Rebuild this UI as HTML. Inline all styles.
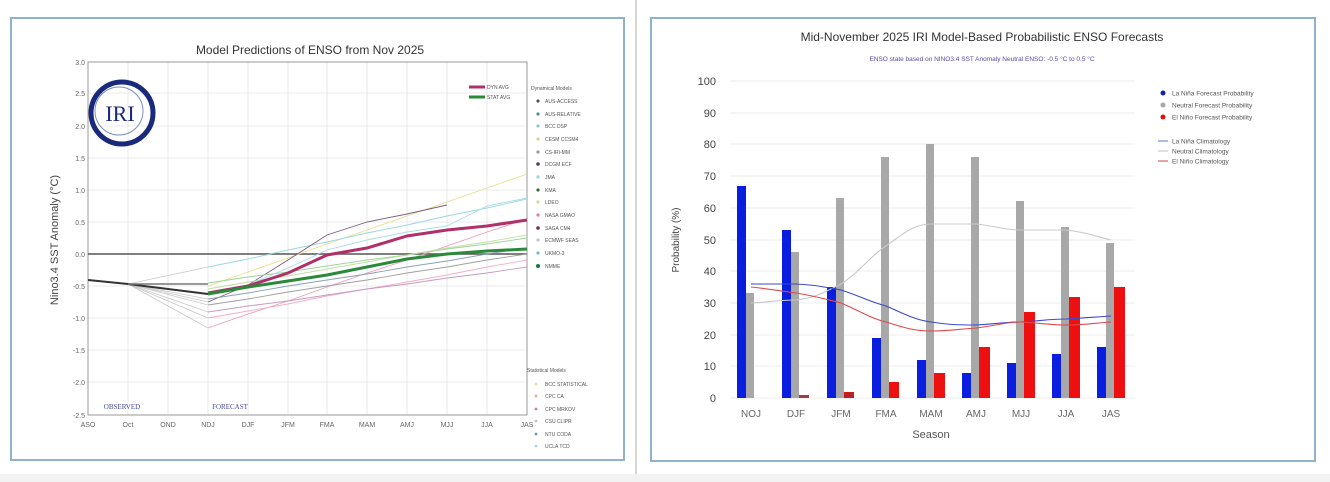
<!DOCTYPE html>
<html><head><meta charset="utf-8"><style>
html,body{margin:0;padding:0;background:#fff;}
svg{display:block;font-family:"Liberation Sans",sans-serif;}
</style></head><body>
<svg width="1330" height="482" viewBox="0 0 1330 482" xmlns="http://www.w3.org/2000/svg">
<rect width="1330" height="482" fill="#fff"/>
<line x1="636" y1="0" x2="636" y2="482" stroke="#c8c8c8" stroke-width="1.5"/>
<rect x="0" y="474" width="1330" height="8" fill="#f2f2f2"/>
<rect x="11" y="18" width="613" height="442" fill="none" stroke="#8fb3cc" stroke-width="2"/>
<rect x="651" y="18" width="664" height="443" fill="none" stroke="#8fb3cc" stroke-width="2"/>

<!-- LEFT CHART -->
<text x="310" y="54" font-size="12" text-anchor="middle" fill="#333">Model Predictions of ENSO from Nov 2025</text>
<g stroke="#e4e4e4" stroke-width="0.8">
<line x1="88" y1="62" x2="527" y2="62"/><line x1="88" y1="93" x2="527" y2="93"/><line x1="88" y1="126" x2="527" y2="126"/><line x1="88" y1="158" x2="527" y2="158"/><line x1="88" y1="190" x2="527" y2="190"/><line x1="88" y1="222" x2="527" y2="222"/><line x1="88" y1="286" x2="527" y2="286"/><line x1="88" y1="318" x2="527" y2="318"/><line x1="88" y1="350" x2="527" y2="350"/><line x1="88" y1="382" x2="527" y2="382"/>
<line x1="128" y1="62" x2="128" y2="415"/><line x1="168" y1="62" x2="168" y2="415"/><line x1="208" y1="62" x2="208" y2="415"/><line x1="248" y1="62" x2="248" y2="415"/><line x1="288" y1="62" x2="288" y2="415"/><line x1="327" y1="62" x2="327" y2="415"/><line x1="367" y1="62" x2="367" y2="415"/><line x1="407" y1="62" x2="407" y2="415"/><line x1="447" y1="62" x2="447" y2="415"/><line x1="487" y1="62" x2="487" y2="415"/>
</g>
<rect x="88" y="62" width="439" height="353" fill="none" stroke="#999" stroke-width="1"/>
<g font-size="7" fill="#666" text-anchor="end">
<text x="85" y="65">3.0</text><text x="85" y="96">2.5</text><text x="85" y="129">2.0</text><text x="85" y="161">1.5</text><text x="85" y="193">1.0</text><text x="85" y="225">0.5</text><text x="85" y="257">0.0</text><text x="85" y="289">-0.5</text><text x="85" y="321">-1.0</text><text x="85" y="353">-1.5</text><text x="85" y="385">-2.0</text><text x="85" y="418">-2.5</text>
</g>
<g font-size="7" fill="#666" text-anchor="middle">
<text x="88" y="427">ASO</text><text x="128" y="427">Oct</text><text x="168" y="427">OND</text><text x="208" y="427">NDJ</text><text x="248" y="427">DJF</text><text x="288" y="427">JFM</text><text x="327" y="427">FMA</text><text x="367" y="427">MAM</text><text x="407" y="427">AMJ</text><text x="447" y="427">MJJ</text><text x="487" y="427">JJA</text><text x="527" y="427">JAS</text>
</g>
<text x="0" y="0" font-size="11" fill="#444" text-anchor="middle" transform="translate(58,240) rotate(-90)">Nino3.4 SST Anomaly (°C)</text>
<text x="122" y="409" font-size="7" fill="#4a4a9a" text-anchor="middle" font-family="Liberation Serif,serif">OBSERVED</text>
<text x="230" y="409" font-size="7" fill="#4a4a9a" text-anchor="middle" font-family="Liberation Serif,serif">FORECAST</text>
<!-- logo -->
<circle cx="122" cy="113" r="31" fill="none" stroke="#1a2a7a" stroke-width="5"/>
<circle cx="119" cy="111" r="24" fill="none" stroke="#7d8fbf" stroke-width="1"/>
<text x="120" y="121" font-size="22" fill="#1a2a7a" text-anchor="middle" font-family="Liberation Serif,serif">IRI</text>
<!-- zero line -->
<line x1="88" y1="254" x2="527" y2="254" stroke="#555" stroke-width="1.5"/>
<!-- fan from Oct -->
<g stroke="#c8c8c8" stroke-width="0.8" fill="none">
<polyline points="128,284 208,267"/><polyline points="128,284 208,302"/><polyline points="128,284 208,328"/><polyline points="128,284 208,318"/><polyline points="128,284 208,312"/><polyline points="128,284 208,305"/><polyline points="128,284 208,299"/>
</g>
<!-- model lines -->
<g fill="none" stroke-width="0.9">
<polyline stroke="#e8e08a" points="208,286 248,272 288,258 327,244 367,230 407,216 447,202 487,188 527,174"/>
<polyline stroke="#9ad8e0" points="208,267 248,259 288,250 327,242 367,233 407,225 447,216 487,208 527,199"/>
<polyline stroke="#7a5a7a" points="208,302 248,285 288,260 327,235 367,222 407,214 447,205"/>
<polyline stroke="#f09ab8" points="208,328 248,314 288,301 327,287 367,273 407,260 447,246 487,232 527,219"/>
<polyline stroke="#9ed49e" points="208,283 248,277 288,272 327,266 367,260 407,255 447,249 487,244 527,238"/>
<polyline stroke="#a0a0a0" points="208,305 248,299 288,292 327,286 367,280 407,273 447,267 487,260 527,254"/>
<polyline stroke="#f0b0c8" points="208,318 248,311 288,304 327,296 367,289 407,282 447,275 487,267 527,260"/>
<polyline stroke="#c89ac0" points="208,312 248,306 288,301 327,295 367,289 407,284 447,278 487,273 527,267"/>
<polyline stroke="#8aa0b8" points="208,299 248,293 288,286 327,280 367,274 407,267 447,261 487,254 527,248"/>
<polyline stroke="#c0e0a0" points="208,289 248,282 288,276 327,269 367,262 407,255 447,248 487,242 527,235"/>
<polyline stroke="#a8d8e8" points="208,295 248,285 288,268 327,250 367,240 407,232 447,226 487,206 527,198"/>
</g>
<!-- averages -->
<polyline fill="none" stroke="#333" stroke-width="2" points="88,280 128,284 208,294"/>
<polyline fill="none" stroke="#777" stroke-width="1.5" points="128,284 208,284"/>
<polyline fill="none" stroke="#b0306a" stroke-width="3" points="208,293 248,286 288,273 327,255 367,248 407,236 447,230 487,226 527,220"/>
<polyline fill="none" stroke="#2a8a3a" stroke-width="3" points="208,294 248,287 288,281 327,275 367,267 407,259 447,254 487,251 527,249"/>
<!-- left legend -->
<line x1="469" y1="87" x2="485" y2="87" stroke="#b0306a" stroke-width="3"/><text x="487" y="89" font-size="5" fill="#555">DYN AVG</text>
<line x1="469" y1="97" x2="485" y2="97" stroke="#2a8a3a" stroke-width="3"/><text x="487" y="99" font-size="5" fill="#555">STAT AVG</text>
<g font-size="5" fill="#555">
<text x="531" y="90">Dynamical Models</text>
<text x="545" y="103">AUS-ACCESS</text><text x="545" y="116">AUS-RELATIVE</text><text x="545" y="128">BCC DSP</text><text x="545" y="141">CESM CCSM4</text><text x="545" y="154">CS-IRI-MM</text><text x="545" y="166">DCGM ECF</text><text x="545" y="179">JMA</text><text x="545" y="192">KMA</text><text x="545" y="204">LDEO</text><text x="545" y="217">NASA GMAO</text><text x="545" y="230">SAGA CM4</text><text x="545" y="242">ECMWF SEAS</text><text x="545" y="255">UKMO-3</text><text x="545" y="268">NMME</text>
<text x="527" y="372">Statistical Models</text>
<text x="545" y="386">BCC STATISTICAL</text><text x="545" y="398">CPC CA</text><text x="545" y="411">CPC MRKOV</text><text x="545" y="423">CSU CLIPR</text><text x="545" y="436">NTU CODA</text><text x="545" y="448">UCLA TCD</text>
</g>
<g>
<circle cx="538" cy="101" r="1.6" fill="#555"/><circle cx="538" cy="114" r="1.6" fill="#5a8a9a"/><circle cx="538" cy="126" r="1.6" fill="#8ac8d8"/><circle cx="538" cy="139" r="1.6" fill="#e0d080"/><circle cx="538" cy="152" r="1.6" fill="#999"/><circle cx="538" cy="164" r="1.8" fill="#5a3a5a"/><circle cx="538" cy="177" r="1.6" fill="#9ad8e0"/><circle cx="538" cy="190" r="1.6" fill="#3a6a3a"/><circle cx="538" cy="202" r="1.6" fill="#d8d890"/><circle cx="538" cy="215" r="1.6" fill="#e07a9a"/><circle cx="538" cy="228" r="1.8" fill="#7a2a4a"/><circle cx="538" cy="240" r="1.6" fill="#c8c0e0"/><circle cx="538" cy="253" r="1.6" fill="#7ab8c0"/><circle cx="538" cy="266" r="2" fill="#1a7a3a"/>
<circle cx="536" cy="384" r="1.4" fill="#e8d890"/><circle cx="536" cy="396" r="1.4" fill="#f0a0a0"/><circle cx="536" cy="409" r="1.4" fill="#c080b0"/><circle cx="536" cy="421" r="1.4" fill="#c0c0c0"/><circle cx="536" cy="434" r="1.4" fill="#6aa0a0"/><circle cx="536" cy="446" r="1.4" fill="#a0e0e0"/>
</g>

<!-- RIGHT CHART -->
<text x="982" y="41" font-size="12" text-anchor="middle" fill="#333">Mid-November 2025 IRI Model-Based Probabilistic ENSO Forecasts</text>
<text x="982" y="61" font-size="6.5" text-anchor="middle" fill="#5a4aa8">ENSO state based on NINO3.4 SST Anomaly Neutral ENSO: -0.5 °C to 0.5 °C</text>
<g stroke="#ececec" stroke-width="1">
<line x1="730" y1="81" x2="1135" y2="81"/><line x1="730" y1="113" x2="1135" y2="113"/><line x1="730" y1="144" x2="1135" y2="144"/><line x1="730" y1="176" x2="1135" y2="176"/><line x1="730" y1="208" x2="1135" y2="208"/><line x1="730" y1="240" x2="1135" y2="240"/><line x1="730" y1="271" x2="1135" y2="271"/><line x1="730" y1="303" x2="1135" y2="303"/><line x1="730" y1="335" x2="1135" y2="335"/><line x1="730" y1="366" x2="1135" y2="366"/><line x1="730" y1="398" x2="1135" y2="398"/>
</g>
<g font-size="11" fill="#444" text-anchor="end">
<text x="716" y="85">100</text><text x="716" y="117">90</text><text x="716" y="148">80</text><text x="716" y="180">70</text><text x="716" y="212">60</text><text x="716" y="244">50</text><text x="716" y="275">40</text><text x="716" y="307">30</text><text x="716" y="339">20</text><text x="716" y="370">10</text><text x="716" y="402">0</text>
</g>
<text x="0" y="0" font-size="10" fill="#444" text-anchor="middle" transform="translate(679,240) rotate(-90)">Probability (%)</text>
<g font-size="10" fill="#666" text-anchor="middle">
<text x="751" y="417">NOJ</text><text x="796" y="417">DJF</text><text x="841" y="417">JFM</text><text x="886" y="417">FMA</text><text x="931" y="417">MAM</text><text x="976" y="417">AMJ</text><text x="1021" y="417">MJJ</text><text x="1066" y="417">JJA</text><text x="1111" y="417">JAS</text>
</g>
<text x="931" y="438" font-size="11" fill="#555" text-anchor="middle">Season</text>
<!-- bars -->
<g fill="#a8a8a8">
<rect x="746" y="293" width="8" height="105"/><rect x="791" y="252" width="8" height="146"/><rect x="836" y="198" width="8" height="200"/><rect x="881" y="157" width="8" height="241"/><rect x="926" y="144" width="8" height="254"/><rect x="971" y="157" width="8" height="241"/><rect x="1016" y="201" width="8" height="197"/><rect x="1061" y="227" width="8" height="171"/><rect x="1106" y="243" width="8" height="155"/>
</g>
<g fill="#0a1ee0">
<rect x="737" y="186" width="9" height="212"/><rect x="782" y="230" width="9" height="168"/><rect x="827" y="287" width="9" height="111"/><rect x="872" y="338" width="9" height="60"/><rect x="917" y="360" width="9" height="38"/><rect x="962" y="373" width="9" height="25"/><rect x="1007" y="363" width="9" height="35"/><rect x="1052" y="354" width="9" height="44"/><rect x="1097" y="347" width="9" height="51"/>
</g>
<g fill="#ee1010">
<rect x="799" y="395" width="10" height="3" fill="#a04040"/><rect x="844" y="392" width="10" height="6" fill="#c02020"/><rect x="889" y="382" width="10" height="16"/><rect x="934" y="373" width="11" height="25"/><rect x="979" y="347" width="11" height="51"/><rect x="1024" y="312" width="11" height="86"/><rect x="1069" y="297" width="11" height="101"/><rect x="1114" y="287" width="11" height="111"/>
</g>
<!-- climatology -->
<g fill="none" stroke-width="1.1">
<path stroke="#c8c8c8" d="M751,303 C770,302 780,300 796,300 C815,298 825,292 841,284 C860,272 870,256 886,246 C905,232 915,224 931,224 L976,224 C995,226 1005,230 1021,230 L1066,230 C1085,232 1095,236 1111,240"/>
<path stroke="#3a4ad0" d="M751,284 L796,284 C815,285 825,287 841,290 C860,296 870,302 886,306 C905,314 915,320 931,322 C950,325 960,325 976,325 C995,324 1005,322 1021,322 C1040,321 1050,319 1066,319 C1085,318 1095,317 1111,316"/>
<path stroke="#e04a4a" d="M751,287 C770,289 780,291 796,293 C815,296 825,299 841,303 C860,311 870,318 886,322 C905,328 915,331 931,331 C950,331 960,329 976,328 C995,326 1005,322 1021,322 C1040,323 1050,325 1066,325 C1085,325 1095,323 1111,322"/>
</g>
<!-- right legend -->
<circle cx="1163" cy="93" r="2.5" fill="#1020c0"/><text x="1172" y="95.5" font-size="6.5" fill="#555">La Niña Forecast Probability</text>
<circle cx="1163" cy="105" r="2.5" fill="#a8a8a8"/><text x="1172" y="107.5" font-size="6.5" fill="#555">Neutral Forecast Probability</text>
<circle cx="1163" cy="117" r="2.5" fill="#e01010"/><text x="1172" y="119.5" font-size="6.5" fill="#555">El Niño Forecast Probability</text>
<line x1="1158" y1="141" x2="1168" y2="141" stroke="#5a7ad0"/><text x="1172" y="143.5" font-size="6.5" fill="#555">La Niña Climatology</text>
<line x1="1158" y1="151" x2="1168" y2="151" stroke="#c0c0c0"/><text x="1172" y="153.5" font-size="6.5" fill="#555">Neutral Climatology</text>
<line x1="1158" y1="161" x2="1168" y2="161" stroke="#d04a4a"/><text x="1172" y="163.5" font-size="6.5" fill="#555">El Niño Climatology</text>
</svg>
</body></html>
